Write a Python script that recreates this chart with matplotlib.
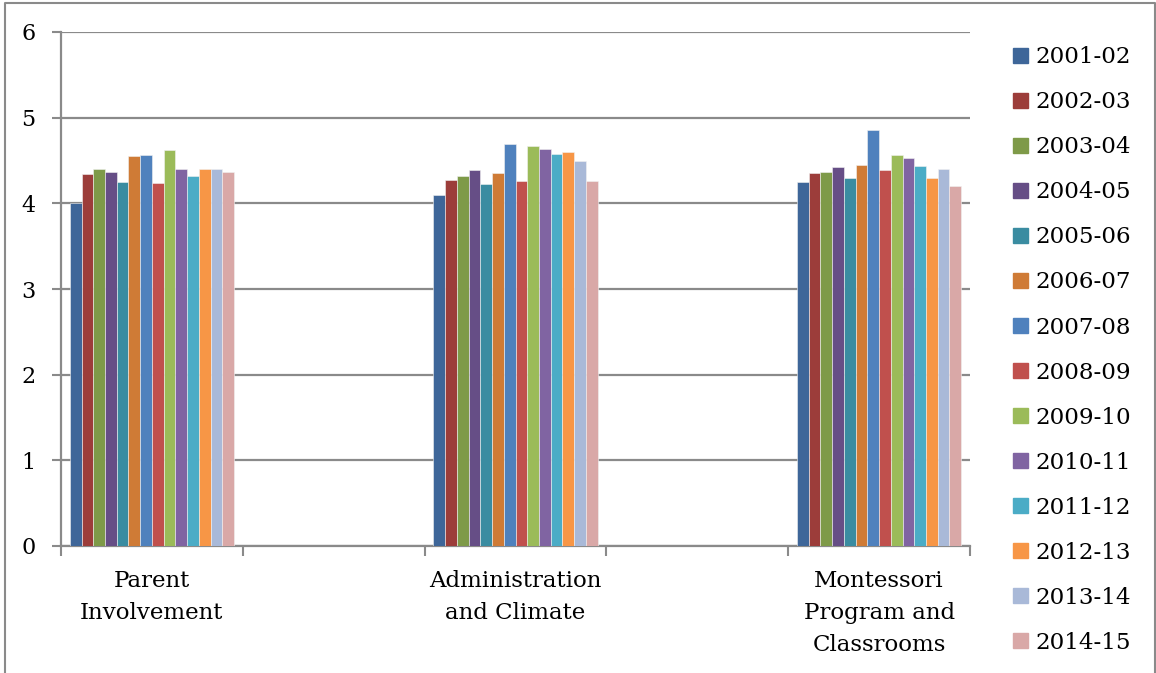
import numpy as np
import matplotlib
matplotlib.use('Agg')
import matplotlib.pyplot as plt
from matplotlib.patches import Rectangle
from matplotlib.lines import Line2D

# survey areas (the chart keeps an empty slot between each one)
categories = ["Parent\nInvolvement", "Administration\nand Climate", "Montessori\nProgram and\nClassrooms"]
years = ["2001-02", "2002-03", "2003-04", "2004-05", "2005-06", "2006-07", "2007-08",
         "2008-09", "2009-10", "2010-11", "2011-12", "2012-13", "2013-14", "2014-15"]

# average rating per year, one list per survey area
parent_involvement = [4.00, 4.34, 4.40, 4.36, 4.25, 4.55, 4.56, 4.24, 4.62, 4.40, 4.32, 4.40, 4.40, 4.36]
admin_climate = [4.10, 4.27, 4.32, 4.39, 4.22, 4.35, 4.69, 4.26, 4.67, 4.63, 4.58, 4.60, 4.50, 4.26]
montessori_program = [4.25, 4.35, 4.37, 4.42, 4.30, 4.45, 4.86, 4.39, 4.57, 4.53, 4.43, 4.30, 4.40, 4.20]

colors = ["#3E6699", "#9C3D3A", "#7E9A48", "#664E86", "#3A8CA1", "#CF7B36", "#4F81BD",
          "#C0504D", "#9BBB59", "#8064A2", "#4BACC6", "#F79646", "#A9B9D8", "#D9A8A7"]

plt.rcParams['font.family'] = ['DejaVu Serif']

fig = plt.figure(figsize=(11.56, 6.73), dpi=100)
ax = fig.add_axes([61 / 1156, 1 - 546 / 673, 909 / 1156, 514 / 673])

values = np.array([parent_involvement, admin_climate, montessori_program])
slots = np.arange(len(categories)) * 2
n = len(years)
w = 1 / (n + 1.5)

for i, (yr, c) in enumerate(zip(years, colors)):
    ax.bar(slots + (i - (n - 1) / 2) * w, values[:, i], width=w, color=c,
           edgecolor='#f2f2f2', linewidth=0.4, label=yr, zorder=3)

gray = '#8a8a8a'
ax.set_xlim(-0.5, slots[-1] + 0.5)
ax.set_ylim(0, 6)
ax.set_yticks(range(7))
ax.yaxis.grid(True, color=gray, linewidth=1.6, zorder=0)
ax.set_axisbelow(True)

ax.set_xticks(slots)
ax.set_xticklabels(categories, fontsize=16.5, linespacing=1.6)
ax.set_xticks(np.arange(-0.5, slots[-1] + 1, 1), minor=True)
ax.tick_params(axis='x', which='major', length=0, pad=17)
ax.tick_params(axis='x', which='minor', length=7, width=1.5, color=gray, direction='out')
ax.tick_params(axis='y', length=6.5, width=1.5, color=gray, pad=12, labelsize=16)

for s in ['top', 'right']:
    ax.spines[s].set_visible(False)
for s in ['left', 'bottom']:
    ax.spines[s].set_color(gray)
    ax.spines[s].set_linewidth(1.6)

handles = [Rectangle((0, 0), 1, 1, color=c) for c in colors]
fig.legend(handles, years, loc='upper left', bbox_to_anchor=(1004 / 1156, 1 - 37 / 673),
           frameon=False, fontsize=16.6, handlelength=0.62, handleheight=0.62,
           handletextpad=0.35, labelspacing=1.0, borderaxespad=0)

# outer frame of the chart area
fig.add_artist(Line2D([4.5 / 1156, 4.5 / 1156, 1154.5 / 1156, 1154.5 / 1156],
                      [0, 1 - 2.5 / 673, 1 - 2.5 / 673, 0], color=gray, linewidth=1.5))

fig.savefig('out.png', dpi=100)
